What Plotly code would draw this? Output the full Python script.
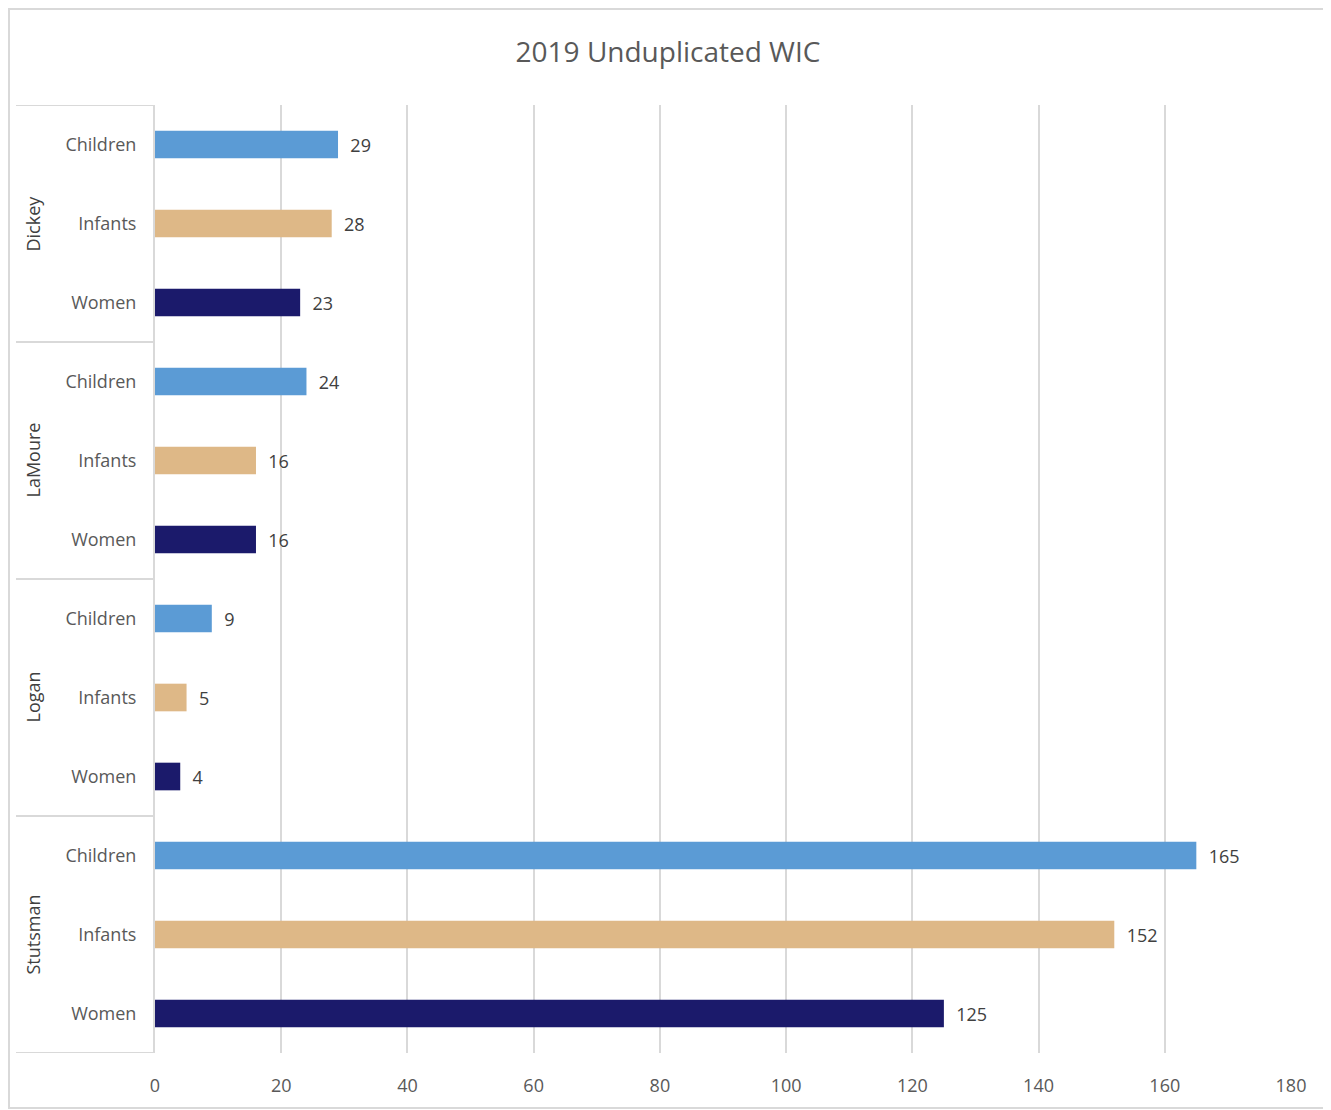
import plotly.graph_objects as go

groups = ["Dickey", "LaMoure", "Logan", "Stutsman"]
subcats = ["Children", "Infants", "Women"]
children = [29, 24, 9, 165]
infants = [28, 16, 5, 152]
women = [23, 16, 4, 125]
series = {"Children": children, "Infants": infants, "Women": women}
colors = {"Children": "#5B9BD5", "Infants": "#DEB887", "Women": "#1B1A6B"}
x_ticks = [0, 20, 40, 60, 80, 100, 120, 140, 160, 180]

OFF = 8  # page body margin
W, H = 1331 - OFF, 1110 - OFF
L, R, T, B = 155 - OFF, 40, 105 - OFF, 1110 - 1053
pw, ph = W - L - R, H - T - B

fig = go.Figure()
n_sub = len(subcats)
for j, s in enumerate(subcats):
    ys = [i * n_sub + j for i in range(len(groups))]
    fig.add_trace(go.Bar(
        x=series[s], y=ys, orientation="h", name=s,
        marker=dict(color=colors[s], line=dict(width=0)),
        width=0.35,
        text=series[s], texttemplate="  %{x}", textposition="outside",
        textfont=dict(family="Open Sans", size=18, color="#404040"),
        cliponaxis=False,
    ))

tickvals = list(range(len(groups) * n_sub))
ticktext = [subcats[k % n_sub] for k in tickvals]

fig.update_layout(
    width=W, height=H,
    margin=dict(l=L, r=R, t=T, b=B),
    paper_bgcolor="white", plot_bgcolor="white",
    showlegend=False, barmode="overlay",
    title=dict(text="2019 Unduplicated WIC", x=(668 - OFF) / W, xanchor="center",
               y=1 - (52 - OFF) / H, yanchor="middle",
               font=dict(family="Open Sans", size=28, color="#595959")),
    font=dict(family="Open Sans", size=18, color="#595959"),
)
fig.update_xaxes(
    range=[0, 180], tickvals=x_ticks, showgrid=True, gridcolor="#D9D9D9", gridwidth=2,
    zeroline=False, showline=False, ticks="", ticklabelstandoff=20,
    tickfont=dict(family="Open Sans", size=18, color="#595959"),
)
fig.update_yaxes(
    range=[len(tickvals) - 0.5, -0.5], tickvals=tickvals, ticktext=ticktext,
    showgrid=False, zeroline=False, showline=True, linecolor="#D9D9D9", linewidth=2,
    ticks="", ticklabelstandoff=13,
    tickfont=dict(family="Open Sans", size=18, color="#595959"),
)

# group separators in the category axis area
x_left = (16 - 155) / pw
for i in range(len(groups) + 1):
    yv = i * n_sub - 0.5
    fig.add_shape(type="line", xref="paper", yref="y", x0=x_left, x1=0, y0=yv, y1=yv,
                  line=dict(color="#D9D9D9", width=2))
# group labels
for i, g in enumerate(groups):
    fig.add_annotation(text=g, xref="paper", yref="y", x=(32 - 155) / pw, y=i * n_sub + 1,
                       textangle=-90, showarrow=False, xanchor="center", yanchor="middle",
                       font=dict(family="Open Sans", size=18, color="#404040"))
# chart border (figure pixel coords converted to paper coords)
bx0, bx1, by_top, by_bot = 1, W - 2, 1, 1108 - OFF
fig.add_shape(type="rect", xref="paper", yref="paper",
              x0=(bx0 - L) / pw, x1=(bx1 - L) / pw,
              y0=(H - B - by_bot) / ph, y1=(H - B - by_top) / ph,
              line=dict(color="#D9D9D9", width=2), fillcolor="rgba(0,0,0,0)", layer="below")

fig.write_html("out.html")
